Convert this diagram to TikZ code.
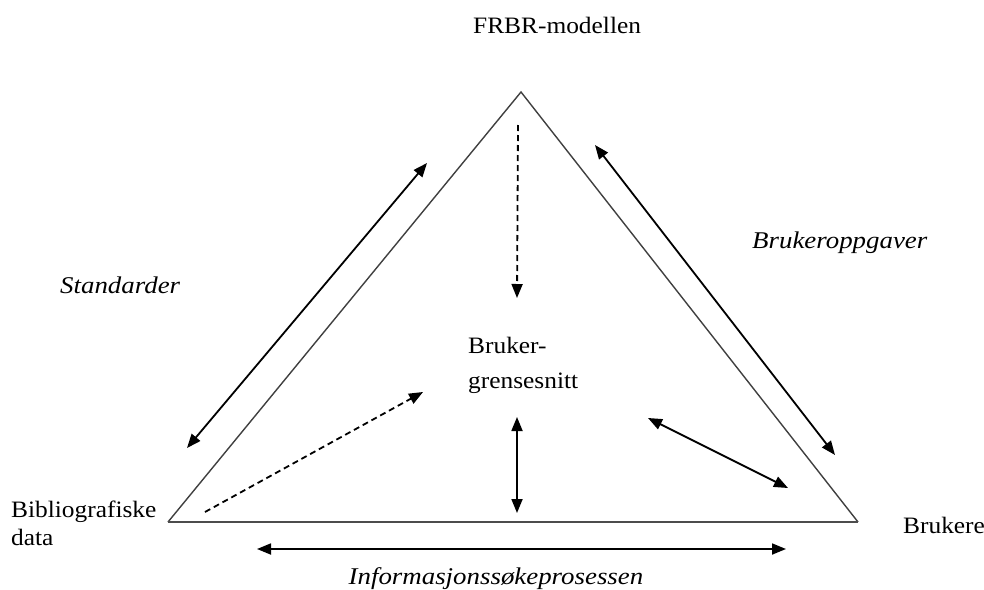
\documentclass[tikz,border=0pt]{standalone}
\usepackage{fontspec}
\setmainfont[FakeStretch=1.08]{Liberation Serif}
\newfontfamily\wideit[FakeStretch=1.12]{Liberation Serif}
\usetikzlibrary{arrows.meta}
\begin{document}
\begin{tikzpicture}[x=1pt,y=-1pt,
  lbl/.style={inner sep=0pt,anchor=base west,font=\fontsize{23.5}{28}\selectfont},
  ilbl/.style={lbl,font=\wideit\fontsize{24}{28}\selectfont\itshape},
  side/.style={draw=black!75,line width=1.4pt},
  tip/.tip={Triangle[length=14pt,width=11pt]},
  link/.style={line width=1.8pt,-tip},
  twoway/.style={link,tip-tip},
  dashlink/.style={link,dash pattern=on 6pt off 4pt}]
\useasboundingbox (0,0) rectangle (984,589);
\fill[white] (0,0) rectangle (984,589);

% corners of the triangle
\coordinate (top) at (521,92);
\coordinate (bl) at (168,522);
\coordinate (br) at (858,522);
\draw[side] (bl) -- (top) -- (br);
\draw[draw=black!70,line width=2.4pt] (bl) -- (br);

% labels
\node[lbl] (frbr) at (473,33) {FRBR-modellen};
\node[ilbl] (std) at (60,293) {Standarder};
\node[ilbl] (oppg) at (752,248) {Brukeroppgaver};
\node[lbl] (ui1) at (468,353) {Bruker-};
\node[lbl] (ui2) at (468,388) {grensesnitt};
\node[lbl] (bib1) at (11,517) {Bibliografiske};
\node[lbl] (bib2) at (11,545) {data};
\node[lbl] (usr) at (903,533) {Brukere};
\node[ilbl,anchor=base] (proc) at (496,584) {Informasjonssøkeprosessen};

% connector end points
\coordinate (s1) at (187,448);
\coordinate (s2) at (427,163);
\coordinate (o1) at (595,145);
\coordinate (o2) at (835,455);
\coordinate (d1) at (518,125);
\coordinate (d2) at (517,298);
\coordinate (e1) at (205,512);
\coordinate (e2) at (423,392);
\coordinate (v1) at (517,417);
\coordinate (v2) at (517,513);
\coordinate (r1) at (648,418);
\coordinate (r2) at (788,488);
\coordinate (h1) at (257,549);
\coordinate (h2) at (786,549);

% connectors
\draw[twoway] (s1) -- (s2);
\draw[twoway] (o1) -- (o2);
\draw[dashlink] (d1) -- (d2);
\draw[dashlink] (e1) -- (e2);
\draw[twoway] (v1) -- (v2);
\draw[twoway] (r1) -- (r2);
\draw[twoway] (h1) -- (h2);
\end{tikzpicture}
\end{document}
